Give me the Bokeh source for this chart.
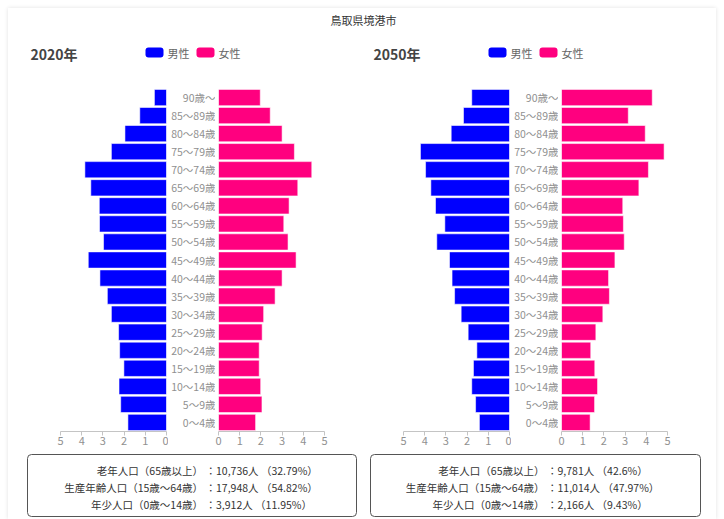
from bokeh.plotting import figure
from bokeh.layouts import column, row
from bokeh.models import Range1d, FactorRange, FixedTicker, Label, ColumnDataSource
from bokeh.core.properties import value
from bokeh.embed import file_html
from bokeh.resources import INLINE

FONT = "Noto Sans CJK JP"

chart_title = "鳥取県境港市"
years = ["2020年", "2050年"]
series_names = ["男性", "女性"]
series_colors = ["#0000ff", "#ff007f"]

ages = ["90歳～", "85～89歳", "80～84歳", "75～79歳", "70～74歳", "65～69歳",
        "60～64歳", "55～59歳", "50～54歳", "45～49歳", "40～44歳", "35～39歳",
        "30～34歳", "25～29歳", "20～24歳", "15～19歳", "10～14歳", "5～9歳", "0～4歳"]

male_2020 = [0.57, 1.26, 1.96, 2.60, 3.85, 3.57, 3.17, 3.16, 2.97, 3.69,
             3.14, 2.79, 2.60, 2.26, 2.21, 2.01, 2.24, 2.16, 1.82]
female_2020 = [1.97, 2.44, 3.00, 3.58, 4.40, 3.74, 3.33, 3.08, 3.28, 3.66,
               3.00, 2.67, 2.13, 2.06, 1.92, 1.92, 1.99, 2.05, 1.75]
male_2050 = [1.78, 2.17, 2.75, 4.20, 3.96, 3.71, 3.49, 3.05, 3.43, 2.83,
             2.71, 2.59, 2.28, 1.95, 1.54, 1.70, 1.78, 1.60, 1.42]
female_2050 = [4.28, 3.15, 3.95, 4.84, 4.10, 3.65, 2.89, 2.92, 2.96, 2.52,
               2.22, 2.26, 1.95, 1.62, 1.38, 1.57, 1.70, 1.56, 1.35]

axis_ticks = [0, 1, 2, 3, 4, 5]
axis_unit = "(%)"

summary_labels = ["老年人口（65歳以上）", "生産年齢人口（15歳～64歳）", "年少人口（0歳～14歳）"]
summary_2020 = ["：10,736人 （32.79%）", "：17,948人 （54.82%）", "：3,912人 （11.95%）"]
summary_2050 = ["：9,781人 （42.6%）", "：11,014人 （47.97%）", "：2,166人 （9.43%）"]

AXIS_GREY = "#c4c4c4"
LABEL_GREY = "#909090"
FRAME_W = 106
FIG_H = 365
BOTTOM = 22


def y_range():
    return FactorRange(factors=list(reversed(ages)))


def side_fig(vals, color, male, bl, br):
    x_rng = Range1d(max(axis_ticks), 0) if male else Range1d(0, max(axis_ticks))
    p = figure(width=bl + FRAME_W + br, height=FIG_H, x_range=x_rng,
               y_range=y_range(), output_backend="svg", toolbar_location=None,
               y_axis_location=None,
               min_border_left=bl, min_border_right=br,
               min_border_top=0, min_border_bottom=BOTTOM,
               outline_line_color=None, background_fill_color="white",
               border_fill_color="white")
    p.grid.visible = False
    src = ColumnDataSource(dict(age=ages, v=vals))
    p.hbar(y="age", left=0, right="v", height=0.9, source=src,
           fill_color=color, line_color="white", line_alpha=0.55, line_width=1)
    ax = p.xaxis[0]
    ax.ticker = FixedTicker(ticks=axis_ticks)
    ax.axis_line_color = AXIS_GREY
    ax.major_tick_line_color = AXIS_GREY
    ax.minor_tick_line_color = None
    ax.major_tick_in = 0
    ax.major_tick_out = 4
    ax.major_label_standoff = 1
    ax.major_label_text_color = LABEL_GREY
    ax.major_label_text_font = FONT
    ax.major_label_text_font_size = "11px"
    if male:
        p.add_layout(Label(x=-10, y=0, x_units="screen", y_units="screen",
                           text=axis_unit, text_align="right", text_baseline="middle",
                           text_font=FONT, text_font_size="11px", text_color=LABEL_GREY))
    return p


def label_fig(width):
    p = figure(width=width, height=FIG_H, x_range=Range1d(0, 1), y_range=y_range(),
               output_backend="svg", toolbar_location=None,
               x_axis_location=None, y_axis_location=None,
               min_border_left=0, min_border_right=0, min_border_top=0,
               min_border_bottom=BOTTOM, outline_line_color=None,
               background_fill_color="white", border_fill_color="white")
    p.grid.visible = False
    src = ColumnDataSource(dict(age=ages, pos=[1] * len(ages)))
    p.text(x="pos", y="age", text="age", source=src, text_font=value(FONT),
           text_font_size="10.5px", text_color=LABEL_GREY, text_align="right",
           text_baseline="middle")
    return p


def blank(width, height):
    p = figure(width=width, height=height, x_range=Range1d(0, width),
               y_range=Range1d(height, 0), output_backend="svg",
               toolbar_location=None, min_border=0,
               x_axis_location=None, y_axis_location=None,
               outline_line_color=None, background_fill_color="white",
               border_fill_color="white")
    p.grid.visible = False
    return p


TOTAL_W = 708

# header
head = blank(TOTAL_W, 80)
head.text(x=[355], y=[11], text=[chart_title], text_font=value(FONT),
          text_font_size="11px", text_color="#333333", text_align="center",
          text_baseline="middle")
head.text(x=[22, 365], y=[45, 45], text=years, text_font=value(FONT),
          text_font_size="14px", text_font_style="bold", text_color="#444444",
          text_align="left", text_baseline="middle")
for x0 in (137, 480):
    head.quad(left=[x0, x0 + 51], right=[x0 + 18, x0 + 69], top=[39, 39],
              bottom=[49, 49], fill_color=series_colors, line_color=None,
              border_radius=3)
    head.text(x=[x0 + 22, x0 + 73], y=[44, 44], text=series_names,
              text_font=value(FONT), text_font_size="11px", text_color="#666666",
              text_align="left", text_baseline="middle")

# pyramids
mL = side_fig(male_2020, series_colors[0], True, 52, 2)
labL = label_fig(47)
fL = side_fig(female_2020, series_colors[1], False, 3, 10)
mR = side_fig(male_2050, series_colors[0], True, 69, 2)
labR = label_fig(47)
fR = side_fig(female_2050, series_colors[1], False, 3, 49)

# summary
summ = blank(TOTAL_W, 66)
summ.quad(left=[19, 362], right=[348, 692], top=[1, 1], bottom=[63, 63],
          fill_color=None, line_color="#555555", line_width=1, border_radius=4)
line_y = [17, 34, 51]
for lx, vx, vals in ((194.5, 197, summary_2020), (536, 538.5, summary_2050)):
    summ.text(x=[lx] * 3, y=line_y, text=summary_labels, text_font=value(FONT),
              text_font_size="10.5px", text_color="#333333", text_align="right",
              text_baseline="middle")
    summ.text(x=[vx] * 3, y=line_y, text=vals, text_font=value(FONT),
              text_font_size="10.5px", text_color="#333333", text_align="left",
              text_baseline="middle")

layout = column(head, row(mL, labL, fL, mR, labR, fR), summ,
                styles={"margin": "8px 0 0 8px",
                        "box-shadow": "0 0 4px rgba(0,0,0,0.12)"})

open("out.html", "w").write(file_html(layout, INLINE))
